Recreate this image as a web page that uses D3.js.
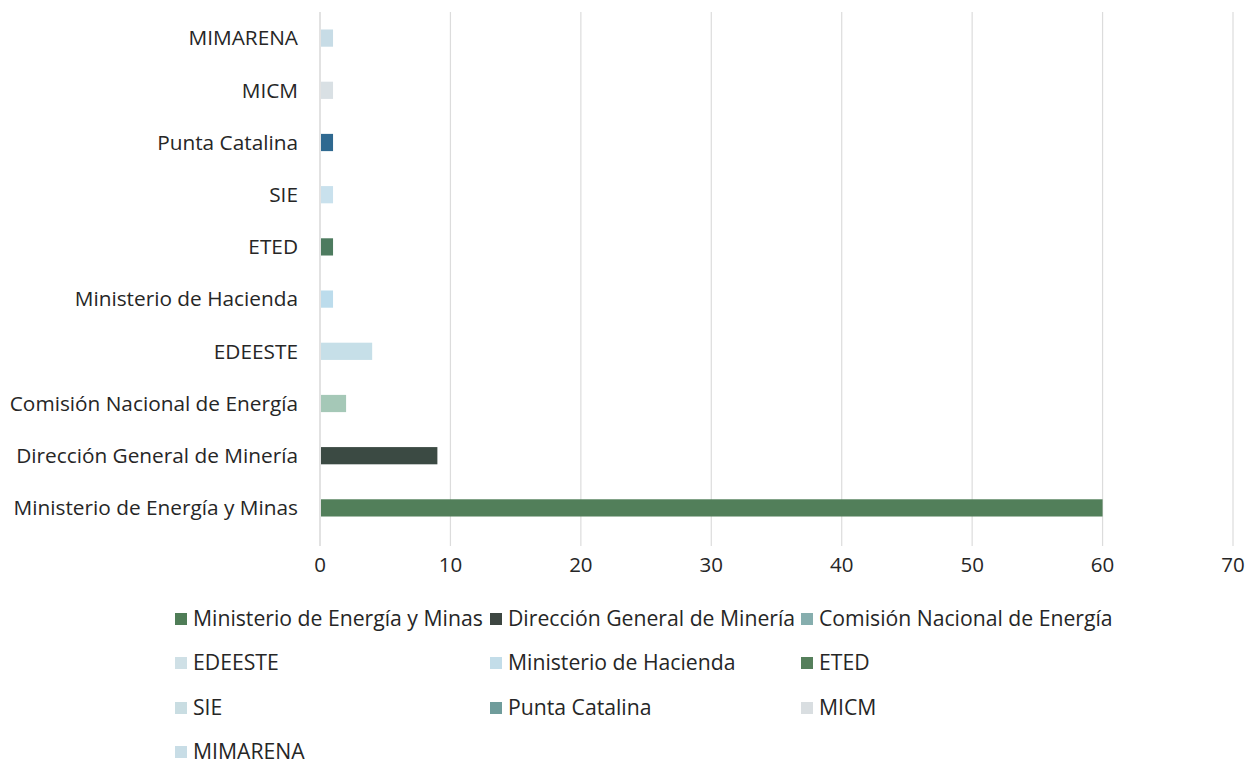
<!DOCTYPE html>
<html><head><meta charset="utf-8">
<script src="https://cdn.jsdelivr.net/npm/d3@7"></script>
<style>body{margin:0;background:#fff;} text{font-family:"Open Sans",sans-serif;fill:#262626;}</style>
</head><body>
<svg id="c" width="1250" height="777"></svg>
<script>
const categories = ["Ministerio de Energía y Minas","Dirección General de Minería","Comisión Nacional de Energía","EDEESTE","Ministerio de Hacienda","ETED","SIE","Punta Catalina","MICM","MIMARENA"];
const values = [60, 9, 2, 4, 1, 1, 1, 1, 1, 1];
const colors = ["#527f5a","#3b4a43","#a5c8b7","#c6dfe8","#bcdcec","#4d7b5f","#c9e1ed","#2f6990","#d9e0e4","#c7dce6"];
const legendColors = ["#4f7d57","#3d4641","#86aeae","#cfe0e6","#c3dde9","#557f5b","#c9dde2","#6f9c9b","#d9dee1","#c8dde6"];
const xTicks = [0,10,20,30,40,50,60,70];

const svg = d3.select("#c");
const pL = 320, pR = 1233, pT = 12, pB = 534;
const x = d3.scaleLinear().domain([0,70]).range([pL,pR]);
const y = d3.scaleBand().domain(categories.slice().reverse()).range([pT,pB]).paddingInner(0.67).paddingOuter(0.335);

// gridlines
svg.append("g").selectAll("line").data(xTicks).join("line")
  .attr("x1",d=>x(d)).attr("x2",d=>x(d)).attr("y1",pT).attr("y2",pB+12)
  .attr("stroke",d=>d===0?"#cfcfcf":"#dcdcdc").attr("stroke-width",1.2);

// bars
svg.append("g").selectAll("rect").data(categories).join("rect")
  .attr("x",x(0)+1).attr("y",d=>y(d))
  .attr("width",(d,i)=>x(values[i])-x(0)-1).attr("height",y.bandwidth())
  .attr("fill",(d,i)=>colors[i]);

// y labels
svg.append("g").selectAll("text").data(categories).join("text")
  .attr("x",298).attr("y",d=>y(d)+y.bandwidth()/2).attr("dy","0.35em")
  .attr("text-anchor","end").attr("font-size",20.8).text(d=>d);

// x tick labels
svg.append("g").selectAll("text").data(xTicks).join("text")
  .attr("x",d=>x(d)).attr("y",565).attr("dy","0.35em")
  .attr("text-anchor","middle").attr("font-size",20.5).text(d=>d);

// legend
const colX = [175, 490, 801];
const rowY = [619, 663, 708, 752];
const lg = svg.append("g").selectAll("g").data(categories).join("g")
  .attr("transform",(d,i)=>`translate(${colX[i%3]},${rowY[Math.floor(i/3)]})`);
lg.append("rect").attr("x",0).attr("y",-6).attr("width",12).attr("height",12).attr("fill",(d,i)=>legendColors[i]);
lg.append("text").attr("x",18).attr("y",0).attr("dy","0.35em").attr("font-size",21.2).text(d=>d);
</script>
</body></html>
